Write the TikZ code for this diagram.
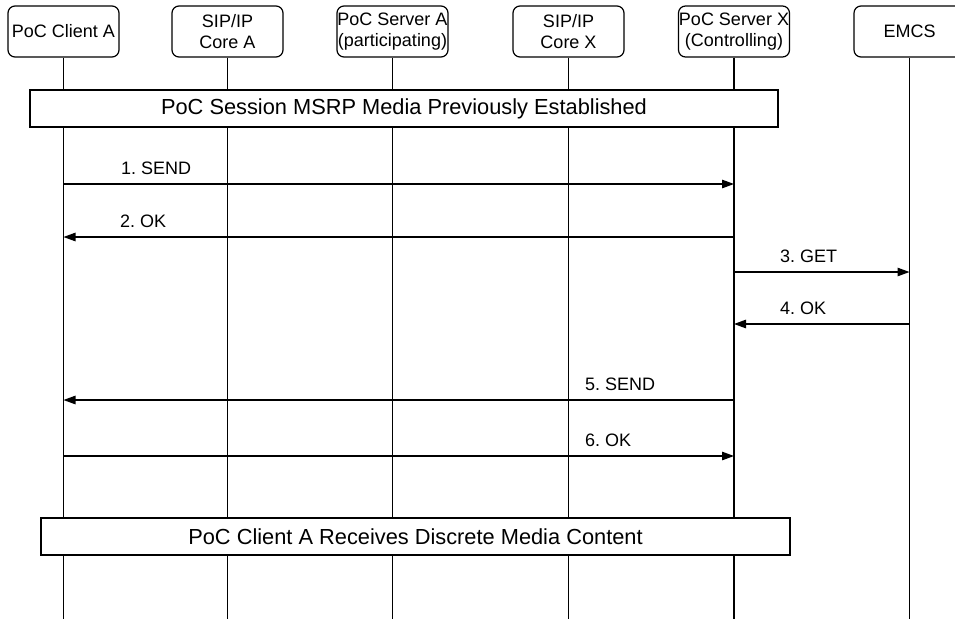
\documentclass[tikz,border=0pt]{standalone}
\usepackage{fontspec}
\setmainfont{Liberation Sans}
\frenchspacing
\usetikzlibrary{arrows.meta,positioning}

\begin{document}
\begin{tikzpicture}[
  x=1pt, y=-1pt,
  every node/.style={font=\fontsize{18}{20.5}\selectfont},
  entity/.style={draw,line width=1.2pt,rounded corners=7pt,minimum width=111pt,
                 minimum height=51pt,align=center,inner sep=0pt},
  lifeline/.style={line width=1.2pt},
  banner/.style={draw,fill=white,line width=1.2pt,minimum height=37pt,inner sep=0pt,
                 font=\fontsize{21.8}{24}\selectfont},
  msg/.style={line width=1.2pt,-{Triangle[length=12pt,width=8.5pt]}},
  lbl/.style={anchor=base west,inner sep=0pt},
]
  \useasboundingbox (0,0) rectangle (955,619);

  % Entities
  \node[entity] (ca)  at (63.5, 31.5)  {PoC Client A};
  \node[entity] (sipa) at (227.5, 31.5) {SIP/IP\\Core A};
  \node[entity] (psa) at (392.5, 31.5)  {PoC Server A\\(participating)};
  \node[entity] (sipx) at (568.5, 31.5) {SIP/IP\\Core X};
  \node[entity] (psx) at (734, 31.5)    {PoC Server X\\(Controlling)};
  \node[entity] (emcs) at (909.5, 31.5) {EMCS};

  % Lifelines
  \coordinate (bottom) at (0, 619);
  \foreach \n in {ca,sipa,psa,sipx,psx,emcs}
    \draw[lifeline] (\n) -- (\n |- bottom);

  % Banners
  \node[banner,minimum width=748pt] (est) at (404, 108.5)
    {PoC Session MSRP Media Previously Established};
  \node[banner,minimum width=749pt] (recv) at (415.5, 536.5)
    {PoC Client A Receives Discrete Media Content};

  % Messages
  \coordinate (m1) at (0, 184);
  \coordinate (m2) at (0, 237);
  \coordinate (m3) at (0, 272);
  \coordinate (m4) at (0, 324);
  \coordinate (m5) at (0, 400);
  \coordinate (m6) at (0, 456);
  \draw[msg] (ca |- m1) -- (psx |- m1);
  \draw[msg] (psx |- m2) -- (ca |- m2);
  \draw[msg] (psx |- m3) -- (emcs |- m3);
  \draw[msg] (emcs |- m4) -- (psx |- m4);
  \draw[msg] (psx |- m5) -- (ca |- m5);
  \draw[msg] (ca |- m6) -- (psx |- m6);

  % Message labels
  \node[lbl] (l1) at (121, 174) {1. SEND};
  \node[lbl] (l2) at (120, 227) {2. OK};
  \node[lbl] (l3) at (780, 262) {3. GET};
  \node[lbl] (l4) at (780, 314) {4. OK};
  \node[lbl] (l5) at (585, 390) {5. SEND};
  \node[lbl] (l6) at (585, 446) {6. OK};
\end{tikzpicture}
\end{document}
